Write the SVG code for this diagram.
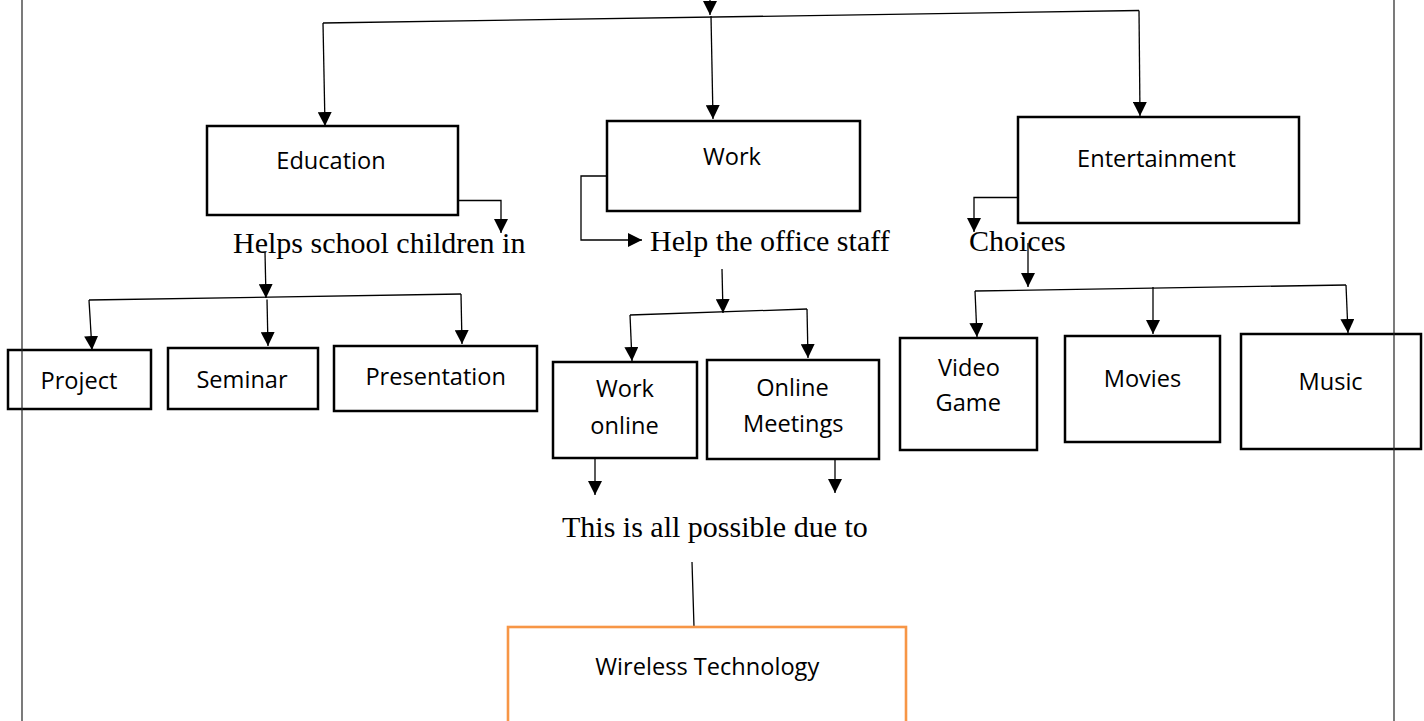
<svg xmlns="http://www.w3.org/2000/svg" width="1424" height="721" viewBox="0 0 1424 721">
<defs>
<marker id="ah" markerUnits="userSpaceOnUse" markerWidth="14" markerHeight="14" refX="14" refY="7" orient="auto">
<path d="M0,0 L14,7 L0,14 z" fill="#000"/>
</marker>
<style>
.box{fill:#fff;stroke:#000;stroke-width:2.5}
.wbox{fill:#fff;stroke:#F79646;stroke-width:2.6}
.c{fill:none;stroke:#000;stroke-width:1.3}
.a{fill:none;stroke:#000;stroke-width:1.3;marker-end:url(#ah)}
.s{font-family:"Open Sans","Liberation Sans",sans-serif;font-size:23.6px;fill:#000;text-anchor:middle}
.t{font-family:"Liberation Serif","Times New Roman",serif;font-size:30px;fill:#000}
.pg{stroke:#222;stroke-width:1.2}
</style>
</defs>
<rect width="1424" height="721" fill="#fff"/>

<g id="connectors">
<path class="a" d="M710,-4 L710,15"/>
<path class="c" d="M323,23 L1139,10.5"/>
<path class="a" d="M323,23 L325,126"/>
<path class="a" d="M711,16 L713,119"/>
<path class="a" d="M1139,10.5 L1140,116"/>
<path class="a" d="M458,200.5 H501 V233"/>
<path class="a" d="M265,252 L266,298"/>
<path class="c" d="M89,300 L461,294"/>
<path class="a" d="M89,300 L92,350"/>
<path class="a" d="M267,299.5 L268,346"/>
<path class="a" d="M461,294 L462,344"/>
<path class="a" d="M607,176 H581 V240 H642"/>
<path class="a" d="M722,269 L723,313"/>
<path class="c" d="M630,315 L807,309"/>
<path class="a" d="M630,315 L632,361"/>
<path class="a" d="M807,309 L808,358"/>
<path class="a" d="M595,458 V495"/>
<path class="a" d="M835,459 V493"/>
<path class="c" d="M692,562 L694,627"/>
<path class="a" d="M1018,197.5 H974 V232"/>
<path class="a" d="M1028,243 V287"/>
<path class="c" d="M975,291 L1346,285"/>
<path class="a" d="M975,291 L977,337"/>
<path class="a" d="M1153,287 L1153,334"/>
<path class="a" d="M1346,285 L1348,333"/>
</g>

<g id="education"><rect class="box" x="207" y="126" width="251" height="89"/><text class="s" x="331" y="169">Education</text></g>
<g id="work"><rect class="box" x="607" y="121" width="253" height="90"/><text class="s" x="732" y="165">Work</text></g>
<g id="entertainment"><rect class="box" x="1018" y="117" width="281" height="106"/><text class="s" x="1156.5" y="166.5">Entertainment</text></g>

<g id="helps-school"><text class="t" x="233" y="253">Helps school children in</text></g>
<g id="help-office"><text class="t" x="650" y="251">Help the office staff</text></g>
<g id="choices"><text class="t" x="969" y="251">Choices</text></g>

<g id="project"><rect class="box" x="8" y="350" width="143" height="59"/><text class="s" x="79" y="389">Project</text></g>
<g id="seminar"><rect class="box" x="168" y="348" width="150" height="61"/><text class="s" x="242" y="388">Seminar</text></g>
<g id="presentation"><rect class="box" x="334" y="346" width="203" height="65"/><text class="s" x="435.7" y="384.6">Presentation</text></g>

<g id="work-online"><rect class="box" x="553" y="362" width="144" height="96"/><text class="s" x="625" y="396.7">Work</text><text class="s" x="624.5" y="434">online</text></g>
<g id="online-meetings"><rect class="box" x="707" y="360" width="172" height="99"/><text class="s" x="792.5" y="395.7">Online</text><text class="s" x="793.3" y="431.7">Meetings</text></g>

<g id="video-game"><rect class="box" x="900" y="338" width="137" height="112"/><text class="s" x="969" y="375.7">Video</text><text class="s" x="968.3" y="411">Game</text></g>
<g id="movies"><rect class="box" x="1065" y="336" width="155" height="106"/><text class="s" x="1142.5" y="386.7">Movies</text></g>
<g id="music"><rect class="box" x="1241" y="334" width="180" height="115"/><text class="s" x="1330.6" y="390">Music</text></g>

<g id="possible"><text class="t" x="562" y="537">This is all possible due to</text></g>
<g id="wireless"><rect class="wbox" x="508" y="627" width="398" height="110"/><text class="s" x="707.3" y="675">Wireless Technology</text></g>

<g id="page-border">
<line class="pg" x1="22" y1="0" x2="22" y2="721"/>
<line class="pg" x1="1394" y1="0" x2="1394" y2="721"/>
</g>
</svg>
